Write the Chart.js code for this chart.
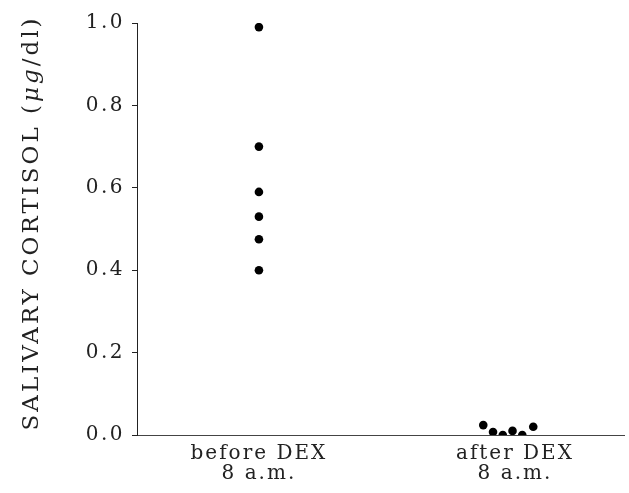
<!DOCTYPE html>
<html><head><meta charset="utf-8">
<script src="https://cdn.jsdelivr.net/npm/chart.js@4/dist/chart.umd.min.js"></script>
<style>html,body{margin:0;padding:0;background:#fff}#wrap{width:629px;height:493px}</style>
</head><body><div id="wrap"><canvas id="c"></canvas></div>
<script>
const categories = [["before DEX","8 a.m."],["after DEX","8 a.m."]];
const categoryX = [1, 3.1];
const beforeX = [1, 1, 1, 1, 1, 1];
const beforeValues = [0.99, 0.70, 0.59, 0.53, 0.475, 0.40];
const afterX = [2.84, 2.92, 3.0, 3.08, 3.16, 3.25];
const afterValues = [0.024, 0.007, 0.0, 0.01, 0.0, 0.02];
const yTicks = [0, 0.2, 0.4, 0.6, 0.8, 1.0];
const yTitleParts = [["SALIVARY CORTISOL (", false], ["μg", true], ["/dl)", false]];

const FONT = "'DejaVu Serif', serif";
const ink = '#222';
Chart.defaults.font.family = FONT;
Chart.defaults.color = ink;

function withSpacing(scale, name, px) {
  const orig = scale[name].bind(scale);
  scale[name] = function(...a) {
    const c = this.ctx; const prev = c.letterSpacing;
    c.letterSpacing = px; orig(...a); c.letterSpacing = prev;
  };
}

const spacingPlugin = {
  id: 'spacing',
  beforeDraw(chart) {
    const x = chart.scales.x, y = chart.scales.y;
    if (!x._ls) { withSpacing(x, 'drawLabels', '2px'); x._ls = true; }
    if (!y._ls) {
      withSpacing(y, 'drawLabels', '2.5px');
      y.drawTitle = function() {
        const c = this.ctx, ca = this.chart.chartArea;
        const size = 23;
        c.save();
        c.letterSpacing = '3px';
        c.fillStyle = ink;
        c.textBaseline = 'middle';
        c.textAlign = 'left';
        const fonts = yTitleParts.map(p => (p[1] ? 'italic ' : '') + size + 'px ' + FONT);
        let total = 0;
        const widths = yTitleParts.map((p, i) => { c.font = fonts[i]; const w = c.measureText(p[0]).width; total += w; return w; });
        c.translate(this.left + 32, (ca.top + ca.bottom) / 2 - 6);
        c.rotate(-Math.PI / 2);
        let pos = -total / 2;
        yTitleParts.forEach((p, i) => { c.font = fonts[i]; c.fillText(p[0], pos, 0); pos += widths[i]; });
        c.restore();
      };
      y._ls = true;
    }
  }
};

new Chart(document.getElementById('c'), {
  type: 'scatter',
  data: {
    datasets: [
      {data: beforeX.map((x,i)=>({x, y: beforeValues[i]}))},
      {data: afterX.map((x,i)=>({x, y: afterValues[i]}))}
    ]
  },
  plugins: [spacingPlugin],
  options: {
    responsive: true, maintainAspectRatio: false, animation: false,
    layout: {padding: {top: 23, right: 4, left: 0, bottom: 0}},
    plugins: {legend: {display: false}, tooltip: {enabled: false}},
    elements: {point: {radius: 4.3, backgroundColor: '#000', borderColor: '#000', borderWidth: 0}},
    scales: {
      x: {
        type: 'linear', min: 0, max: 4,
        afterBuildTicks: s => { s.ticks = categoryX.map(v => ({value: v})); },
        afterFit: s => { s.height = 58; },
        grid: {display: true, drawOnChartArea: false, drawTicks: false, color: '#444'},
        border: {color: '#444', width: 1},
        ticks: {
          padding: 9, font: {size: 20, family: FONT, lineHeight: 1.0}, color: ink, maxRotation: 0, autoSkip: false,
          callback: (v) => { const i = categoryX.indexOf(v); return i >= 0 ? categories[i] : ''; }
        }
      },
      y: {
        min: 0, max: 1,
        afterBuildTicks: s => { s.ticks = yTicks.map(v => ({value: v})); },
        afterFit: s => { s.width = 137; },
        grid: {display: true, drawOnChartArea: false, drawTicks: true, tickLength: 5, color: '#222'},
        border: {color: '#222', width: 1},
        ticks: {padding: 7, font: {size: 20, family: FONT}, color: ink, callback: v => Number(v).toFixed(1)},
        title: {display: true, text: 'SALIVARY CORTISOL (μg/dl)', font: {size: 23, family: FONT}, color: ink, padding: {top: 20, bottom: 0}}
      }
    }
  }
});
</script></body></html>
